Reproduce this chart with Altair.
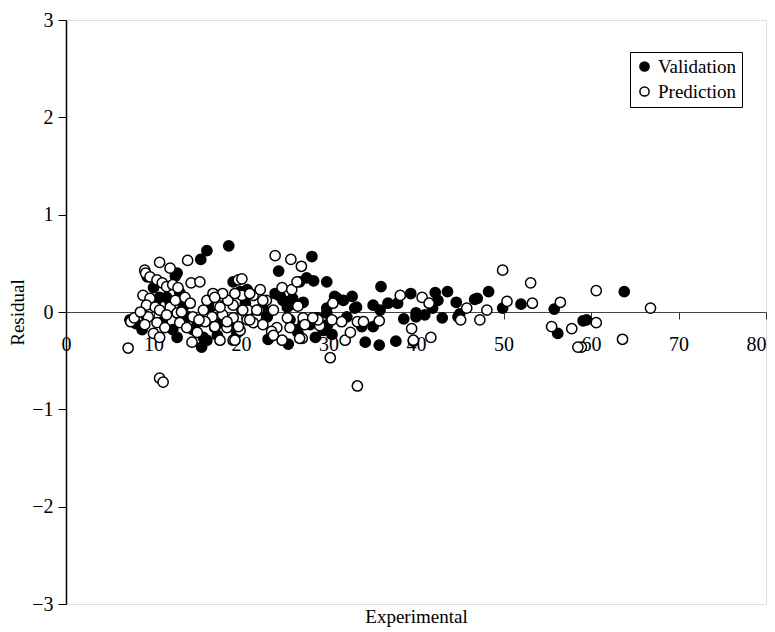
import altair as alt
import pandas as pd

# Validation (filled circles)
val_x = [9.3, 12.7, 12.5, 10.7, 10.2, 9.2, 8.7, 12.2, 12.7, 15.7, 15.5, 16.1, 15.0, 17.8, 19.1, 19.9, 20.5,
         11.9, 11.5, 13.4, 14.5, 17.3, 19.5, 21.3, 20.5, 7.3, 15.4, 16.1, 18.6, 18.7, 13.0, 14.0, 16.5, 11.0,
         8.0, 10.0,
         24.3, 28.1, 27.5, 28.3, 29.8, 36.0, 39.4, 23.1, 25.4, 28.5, 34.2, 35.8, 37.7, 39.7, 29.9, 32.1, 33.0,
         35.1, 36.8, 38.6, 40.0, 41.9, 31.0, 32.7, 31.7, 26.7, 29.8, 28.7, 29.4, 26.4, 27.1, 25.3, 24.5, 23.9,
         20.7, 20.1, 33.2, 35.9, 37.9, 40.0, 30.4, 29.8, 33.8, 35.1, 24.8, 25.9, 27.1, 25.6, 26.5, 27.9, 30.7,
         22.5, 23.0,
         42.2, 42.5, 43.6, 43.0, 44.6, 45.0, 46.7, 47.0, 48.3, 49.9, 52.0, 55.8, 56.2, 59.1, 59.5, 63.8, 41.0,
         44.8]
val_y = [0.36, 0.40, 0.37, 0.15, 0.09, -0.05, -0.18, -0.18, -0.26, -0.26, -0.36, -0.29, -0.11, -0.11, 0.31, 0.21, 0.18,
         0.10, 0.15, 0.05, -0.18, -0.24, -0.22, 0.00, 0.09, -0.08, 0.54, 0.63, 0.68, -0.13, 0.20, -0.05, 0.05, -0.10,
         -0.12, 0.25,
         0.42, 0.57, 0.35, 0.32, 0.31, 0.26, 0.19, -0.28, -0.33, -0.26, -0.31, -0.34, -0.30, -0.30, -0.13, -0.05, 0.04,
         0.07, 0.09, -0.07, -0.05, 0.04, 0.14, 0.16, 0.12, 0.31, 0.04, -0.06, -0.19, -0.18, -0.11, 0.05, 0.16, 0.19,
         0.23, 0.02, 0.05, 0.02, 0.09, -0.01, -0.23, -0.01, -0.15, -0.15, 0.12, 0.14, 0.10, -0.08, -0.21, -0.13, 0.16,
         0.05, -0.05,
         0.20, 0.12, 0.21, -0.06, 0.10, -0.02, 0.13, 0.14, 0.21, 0.04, 0.08, 0.03, -0.22, -0.09, -0.08, 0.21, -0.03,
         -0.05]

# Prediction (open circles)
pred_x = [7.1, 7.4, 7.8, 9.0, 9.1, 10.7, 11.9, 13.9, 9.6, 10.4, 11.0, 11.5, 12.2, 12.8, 14.3, 15.3, 19.7, 8.8,
          9.6, 9.2, 10.2, 10.7, 9.4, 10.4, 9.0, 10.0, 11.3, 10.7, 11.9, 12.5, 12.7, 13.6, 14.2, 14.5, 13.0, 13.8,
          15.0, 14.4, 15.7, 16.1, 16.8, 17.4, 16.7, 15.9, 17.9, 17.0, 18.4, 19.1, 19.1, 18.5, 20.1, 20.8, 19.9,
          17.6, 19.1, 21.4, 21.8, 10.7, 11.1, 17.9, 17.0, 19.3, 17.6, 18.4, 19.7, 17.0, 19.3, 8.5, 11.5, 13.2, 15.2,
          23.9, 25.7, 26.9, 20.1, 21.0, 22.2, 22.9, 22.0, 23.7, 24.7, 25.8, 26.4, 26.5, 27.1, 25.3, 24.1, 23.5,
          27.0, 25.6, 20.7, 21.4, 29.0, 30.5, 30.4, 31.9, 32.5, 30.2, 33.3, 34.0, 35.8, 38.2, 40.7, 41.5, 39.5,
          39.7, 41.7, 33.3, 31.5, 28.8, 22.5, 21.0, 23.7, 24.7, 26.7, 28.2, 27.3, 22.5, 20.2, 21.8,
          45.8, 48.1, 45.1, 47.3, 49.9, 53.1, 53.3, 50.4, 56.5, 55.5, 57.8, 60.6, 60.6, 58.9, 58.5, 66.8, 63.6]
pred_y = [-0.37, -0.10, -0.06, 0.43, 0.40, 0.51, 0.45, 0.53, 0.36, 0.33, 0.30, 0.26, 0.28, 0.25, 0.30, 0.31, 0.33, 0.17,
          0.14, 0.07, 0.05, 0.02, -0.05, -0.11, -0.13, -0.22, -0.16, -0.26, 0.05, 0.12, -0.01, 0.15, 0.09, -0.05, -0.11, -0.16,
          -0.21, -0.31, 0.02, 0.12, 0.19, 0.07, -0.05, -0.10, -0.03, -0.16, -0.16, -0.06, 0.07, 0.12, 0.17, 0.02, -0.19,
          -0.29, -0.29, 0.17, -0.05, -0.68, -0.72, 0.19, 0.15, 0.19, 0.05, -0.10, -0.15, -0.15, -0.29, 0.00, -0.03, 0.00, -0.08,
          0.58, 0.54, 0.47, 0.34, 0.19, 0.23, 0.12, 0.02, 0.02, 0.25, 0.23, 0.31, 0.06, -0.06, -0.06, -0.16, -0.20,
          -0.27, -0.16, -0.08, -0.11, -0.14, 0.09, -0.08, -0.29, -0.21, -0.47, -0.10, -0.10, -0.09, 0.17, 0.15, 0.09, -0.17,
          -0.29, -0.26, -0.76, -0.10, -0.08, -0.13, -0.08, -0.24, -0.29, -0.27, -0.06, -0.13, 0.12, 0.02, 0.02,
          0.04, 0.02, -0.08, -0.08, 0.43, 0.30, 0.09, 0.11, 0.10, -0.15, -0.17, 0.22, -0.11, -0.36, -0.36, 0.04, -0.28]

df = pd.concat([
    pd.DataFrame({"Experimental": val_x, "Residual": val_y, "Set": "Validation"}),
    pd.DataFrame({"Experimental": pred_x, "Residual": pred_y, "Set": "Prediction"}),
], ignore_index=True)

FONT = "Liberation Serif"

chart = alt.Chart(df).mark_point(
    shape="circle", filled=True, size=105, stroke="black", strokeWidth=1.5, opacity=1
).encode(
    x=alt.X("Experimental:Q",
            scale=alt.Scale(domain=[0, 80], nice=False),
            axis=alt.Axis(values=list(range(0, 81, 10)), offset=-292, grid=False,
                          tickSize=7, tickColor="#333", domainColor="#444", domainWidth=1,
                          labelPadding=15, labelFlush=False, labelFontSize=20,
                          labelAlign=alt.condition("datum.value == 80", alt.value("right"), alt.value("center")),
                          title="Experimental", titleY=295, titleBaseline="top",
                          titleFontSize=19, titleFontWeight="normal")),
    y=alt.Y("Residual:Q",
            scale=alt.Scale(domain=[-3, 3], nice=False),
            axis=alt.Axis(values=[-3, -2, -1, 0, 1, 2, 3], grid=False, tickSize=8,
                          tickColor="black", domainColor="black", domainWidth=1.5,
                          labelPadding=5, labelFontSize=20, titleFontSize=19,
                          titleFontWeight="normal", titlePadding=4)),
    fill=alt.Fill("Set:N",
                  scale=alt.Scale(domain=["Validation", "Prediction"], range=["black", "white"]),
                  legend=alt.Legend(title=None, orient="none", legendX=564, legendY=32,
                                    strokeColor="black", padding=5, symbolSize=85,
                                    symbolStrokeColor="black", symbolStrokeWidth=1.5,
                                    labelFontSize=19, labelFont=FONT, rowPadding=5,
                                    symbolType="circle", labelOffset=4)),
    order=alt.Order("order:Q"),
).transform_calculate(
    order="datum.Set == 'Validation' ? 0 : 1"
).properties(
    width=700, height=584,
    autosize=alt.AutoSizeParams(type="none"),
    padding={"left": 58, "top": 12, "right": 1, "bottom": 28},
).configure_view(
    stroke="black", strokeWidth=1.5
).configure_axis(
    labelFont=FONT, titleFont=FONT, labelColor="black", titleColor="black"
).configure(
    font=FONT, background="white"
)

chart.save("out.html", embed_options={"renderer": "svg", "actions": False})
